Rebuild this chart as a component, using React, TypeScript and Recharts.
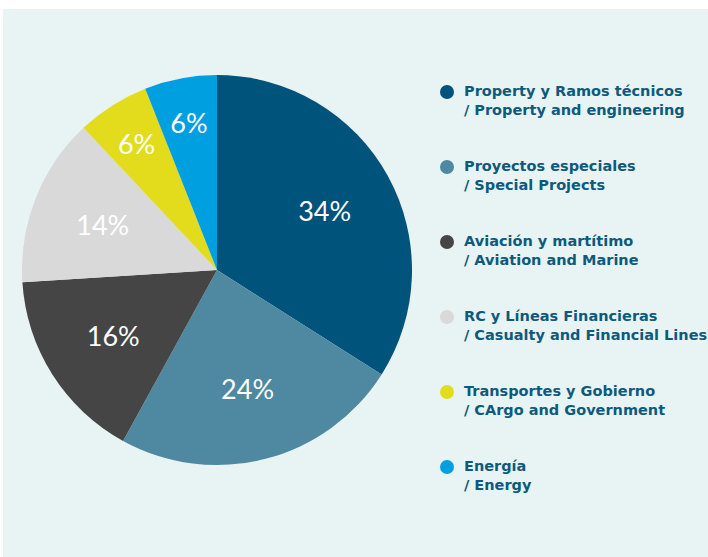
import React from "react";
import { PieChart, Pie, Cell, Legend } from "recharts";

const categoriesEs = [
  "Property y Ramos técnicos",
  "Proyectos especiales",
  "Aviación y martítimo",
  "RC y Líneas Financieras",
  "Transportes y Gobierno",
  "Energía",
];
const categoriesEn = [
  "/ Property and engineering",
  "/ Special Projects",
  "/ Aviation and Marine",
  "/ Casualty and Financial Lines",
  "/ CArgo and Government",
  "/ Energy",
];
const values = [34, 24, 16, 14, 6, 6];
const colors = ["#00537a", "#4f88a1", "#454545", "#d9d9d9", "#e3dc1d", "#009fe0"];

const data = values.map((v, i) => ({ name: categoriesEs[i], en: categoriesEn[i], value: v }));

const RAD = Math.PI / 180;

const renderLabel = (props: any) => {
  const { cx, cy, midAngle, outerRadius, percent, value } = props;
  const r = percent < 0.1 ? outerRadius * 0.77 : outerRadius * 0.63;
  const x = cx + r * Math.cos(-midAngle * RAD);
  const y = cy + r * Math.sin(-midAngle * RAD);
  return (
    <text
      x={x}
      y={y}
      fill="#ffffff"
      textAnchor="middle"
      dominantBaseline="central"
      style={{ fontFamily: "Lato, 'Open Sans', sans-serif", fontSize: 27, fontWeight: 400 }}
    >
      {value}%
    </text>
  );
};

const renderLegend = () => (
  <div style={{ fontFamily: "'DejaVu Sans', sans-serif" }}>
    {data.map((d, i) => (
      <div key={i} style={{ display: "flex", alignItems: "flex-start", height: 75 }}>
        <div
          style={{
            width: 14,
            height: 14,
            borderRadius: 7,
            background: colors[i],
            marginTop: 3,
            marginRight: 10,
            flexShrink: 0,
          }}
        />
        <div
          style={{
            color: "#0d5a7d",
            fontWeight: 700,
            fontSize: 14.5,
            lineHeight: "19px",
            whiteSpace: "nowrap",
          }}
        >
          <div>{d.name}</div>
          <div>{d.en}</div>
        </div>
      </div>
    ))}
  </div>
);

export default function App() {
  return (
    <div
      style={{
        position: "fixed",
        left: 3,
        top: 9,
        width: 705,
        height: 548,
        background: "#e8f4f4",
        overflow: "hidden",
      }}
    >
      <PieChart width={705} height={548} margin={{ top: 0, right: 0, bottom: 0, left: 0 }}>
        <Pie
          data={data}
          dataKey="value"
          nameKey="name"
          cx={214}
          cy={261}
          outerRadius={195}
          startAngle={90}
          endAngle={-270}
          stroke="none"
          label={renderLabel}
          labelLine={false}
          isAnimationActive={false}
        >
          {data.map((d, i) => (
            <Cell key={i} fill={colors[i]} />
          ))}
        </Pie>
        <Legend
          content={renderLegend}
          wrapperStyle={{ position: "absolute", left: 437, top: 73, width: 290 }}
        />
      </PieChart>
    </div>
  );
}
